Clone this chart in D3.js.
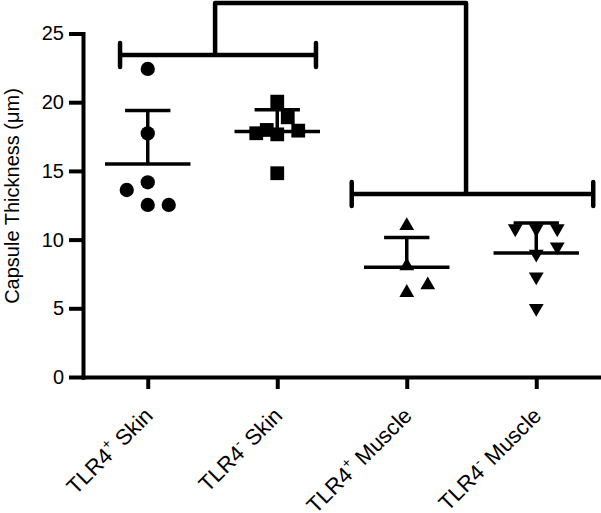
<!DOCTYPE html>
<html>
<head>
<meta charset="utf-8">
<script src="https://cdn.jsdelivr.net/npm/d3@7"></script>
<style>
  body { margin: 0; background: #fff; }
  text { font-family: "Liberation Sans", Arial, sans-serif; fill: #000; }
</style>
</head>
<body>
<script>
// groups on the x axis
let groups = ["TLR4+ Skin", "TLR4- Skin", "TLR4+ Muscle", "TLR4- Muscle"];
let labelSup = ["+", "-", "+", "-"];
let labelTissue = ["Skin", "Skin", "Muscle", "Muscle"];
let symbols = [d3.symbolCircle, d3.symbolSquare, d3.symbolTriangle, d3.symbolTriangle];

// capsule thickness (um), one list per group
let skinPos = [22.42, 17.73, 13.61, 14.17, 12.52, 12.52];
let skinNeg = [20.04, 18.90, 17.74, 17.98, 17.66, 17.93, 14.83];
let musclePos = [11.01, 8.08, 6.70, 6.14];
let muscleNeg = [10.8, 10.8, 10.8, 9.48, 8.95, 7.30, 5.00];
// horizontal spread slot of each point (scatter dodge)
let skinPosSlot = [0, 0, -2, 0, 0, 2];
let skinNegSlot = [0, 1, -2, -1, 0, 2, 0];
let musclePosSlot = [0, 0, 2, 0];
let muscleNegSlot = [-2, 0, 2, 2, 0, 0, 0];

let yTicks = [0, 5, 10, 15, 20, 25];

// comparison brackets (group index span, value level, where the link drops)
let bracketFrom = [-0.214, 1.575];
let bracketTo = [1.299, 3.44];
let bracketLevel = [23.43, 13.32];
let bracketDrop = [0.52, 2.458];
let linkLevel = 27.22;

let values = [skinPos, skinNeg, musclePos, muscleNeg];
let slots = [skinPosSlot, skinNegSlot, musclePosSlot, muscleNegSlot];

let width = 601;
let height = 513;

let svg = d3.select("body").append("svg")
            .attr("width", width)
            .attr("height", height);

let x = d3.scalePoint()
          .domain(groups)
          .range([83, 601])
          .padding(0.5);

let y = d3.scaleLinear()
          .domain([0, 25])
          .range([377, 33.5]);

// group index -> pixel, for brackets
let xi = d3.scaleLinear()
           .domain([0, 3])
           .range([x(groups[0]), x(groups[3])]);

// dodge slot -> pixel offset
let slotX = d3.scaleLinear().domain([0, 1]).range([0, 10.5]);

// points
groups.forEach(function(g, gi) {
  let sym = d3.symbol().type(symbols[gi]).size(gi == 0 ? 160 : gi == 1 ? 190 : 95);
  svg.selectAll(".pt" + gi)
     .data(values[gi])
     .enter().append("path")
             .attr("class", "pt" + gi)
             .attr("d", sym)
             .attr("fill", "#000")
             .attr("transform", (d, i) => `translate(${x(g) + slotX(slots[gi][i])},${y(d)})` + (gi == 3 ? " rotate(180)" : ""));
});

// mean and SD (upper only)
let half = x.step();
groups.forEach(function(g, gi) {
  let m = d3.mean(values[gi]);
  let sd = d3.deviation(values[gi]);
  let cx = x(g);
  svg.append("line")
     .attr("x1", cx - half * 0.33).attr("x2", cx + half * 0.33)
     .attr("y1", y(m)).attr("y2", y(m))
     .attr("stroke", "#000").attr("stroke-width", 3.5);
  svg.append("line")
     .attr("x1", cx).attr("x2", cx)
     .attr("y1", y(m)).attr("y2", y(m + sd))
     .attr("stroke", "#000").attr("stroke-width", 3.5);
  svg.append("line")
     .attr("x1", cx - half * 0.175).attr("x2", cx + half * 0.175)
     .attr("y1", y(m + sd)).attr("y2", y(m + sd))
     .attr("stroke", "#000").attr("stroke-width", 3.5);
});

// brackets
for (let i = 0; i < bracketFrom.length; i++) {
  svg.append("line")
     .attr("x1", xi(bracketFrom[i])).attr("x2", xi(bracketTo[i]))
     .attr("y1", y(bracketLevel[i])).attr("y2", y(bracketLevel[i]))
     .attr("stroke", "#000").attr("stroke-width", 4.5);
  [bracketFrom[i], bracketTo[i]].forEach(function(e) {
    svg.append("line")
       .attr("x1", xi(e)).attr("x2", xi(e))
       .attr("y1", y(bracketLevel[i]) - 12).attr("y2", y(bracketLevel[i]) + 12)
       .attr("stroke", "#000").attr("stroke-width", 4.5)
       .attr("stroke-linecap", "round");
  });
}
svg.append("path")
   .attr("d", d3.line()([
     [xi(bracketDrop[0]), y(bracketLevel[0])],
     [xi(bracketDrop[0]), y(linkLevel)],
     [xi(bracketDrop[1]), y(linkLevel)],
     [xi(bracketDrop[1]), y(bracketLevel[1])]
   ]))
   .attr("fill", "none")
   .attr("stroke", "#000")
   .attr("stroke-width", 4.5)
   .attr("stroke-linejoin", "round");

// axes
let yAxis = svg.append("g")
               .attr("transform", "translate(83,0)")
               .call(d3.axisLeft(y).tickValues(yTicks).tickSize(12).tickSizeOuter(0).tickPadding(7));
yAxis.selectAll("line, path").attr("stroke-width", 4).attr("stroke-linecap", "square");
yAxis.selectAll("text").attr("font-size", 20).attr("font-family", "Liberation Sans, Arial, sans-serif");

let xAxis = svg.append("g")
               .attr("transform", "translate(0,377)")
               .call(d3.axisBottom(x).tickSize(12).tickSizeOuter(0));
xAxis.selectAll("line, path").attr("stroke-width", 4);
xAxis.selectAll(".domain").attr("stroke-linecap", "square");
xAxis.selectAll("text").remove();
xAxis.selectAll(".tick").each(function(d, i) {
  let t = d3.select(this).append("text")
            .attr("transform", "translate(6,40) rotate(-45)")
            .attr("text-anchor", "end")
            .attr("font-size", 22);
  t.append("tspan").text("TLR4");
  t.append("tspan").attr("font-size", 14).attr("dy", -10).text(labelSup[i]);
  t.append("tspan").attr("dy", 10).text(" " + labelTissue[i]);
});

// y title
svg.append("text")
   .attr("transform", "translate(19,196) rotate(-90)")
   .attr("text-anchor", "middle")
   .attr("font-size", 20)
   .text("Capsule Thickness (\u03bcm)");
</script>
</body>
</html>
